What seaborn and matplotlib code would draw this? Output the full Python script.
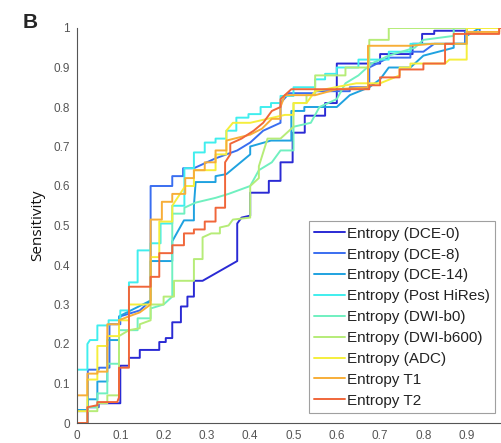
import numpy as np
import pandas as pd
import seaborn as sns
import matplotlib
matplotlib.use("Agg")
import matplotlib.pyplot as plt

# ROC curves, (1 - specificity, sensitivity) vertices
labels = ["Entropy (DCE-0)", "Entropy (DCE-8)", "Entropy (DCE-14)",
          "Entropy (Post HiRes)", "Entropy (DWI-b0)", "Entropy (DWI-b600)",
          "Entropy (ADC)", "Entropy T1", "Entropy T2"]

colors = ["#2a2ad4", "#3a6ef0", "#1fa2e0", "#40eeee", "#70f0c0",
          "#b6ec78", "#f5ee3c", "#f7ae38", "#f0663a"]

dce0_x = [0, 0.025, 0.025, 0.05, 0.05, 0.1, 0.1, 0.12, 0.12, 0.145, 0.145, 0.19, 0.19, 0.205, 0.205,
          0.22, 0.22, 0.24, 0.24, 0.255, 0.255, 0.27, 0.27, 0.29, 0.37, 0.37, 0.38, 0.4, 0.4, 0.443,
          0.443, 0.47, 0.47, 0.498, 0.498, 0.526, 0.526, 0.573, 0.573, 0.6, 0.6, 0.7, 0.7, 0.775,
          0.775, 0.797, 0.797, 0.825, 0.825, 0.9, 0.9, 1]
dce0_y = [0, 0, 0.04, 0.04, 0.05, 0.05, 0.145, 0.145, 0.165, 0.165, 0.185, 0.185, 0.205, 0.205, 0.215,
          0.215, 0.255, 0.255, 0.295, 0.295, 0.32, 0.32, 0.36, 0.36, 0.41, 0.505, 0.52, 0.525, 0.583, 0.583,
          0.613, 0.613, 0.66, 0.66, 0.735, 0.735, 0.778, 0.778, 0.81, 0.81, 0.91, 0.91, 0.934, 0.934,
          0.96, 0.96, 0.985, 0.985, 0.993, 0.993, 1, 1]

dce8_x = [0, 0, 0.025, 0.025, 0.05, 0.05, 0.075, 0.075, 0.1, 0.1, 0.145, 0.17, 0.17, 0.22, 0.22, 0.245,
          0.245, 0.27, 0.32, 0.37, 0.4, 0.43, 0.47, 0.47, 0.49, 0.55, 0.55, 0.63, 0.63, 0.675, 0.675,
          0.72, 0.77, 0.77, 0.8, 0.825, 0.896, 0.896, 0.93, 0.93, 1]
dce8_y = [0, 0.03, 0.03, 0.135, 0.135, 0.14, 0.14, 0.25, 0.25, 0.27, 0.285, 0.31, 0.6, 0.6, 0.625, 0.625,
          0.645, 0.645, 0.67, 0.69, 0.71, 0.74, 0.76, 0.81, 0.835, 0.835, 0.84, 0.84, 0.85, 0.85, 0.9,
          0.925, 0.925, 0.94, 0.94, 0.96, 0.96, 0.99, 0.99, 1, 1]

dce14_x = [0, 0, 0.025, 0.025, 0.047, 0.047, 0.07, 0.07, 0.097, 0.097, 0.17, 0.17, 0.22, 0.22, 0.247,
           0.27, 0.27, 0.274, 0.32, 0.32, 0.345, 0.4, 0.4, 0.448, 0.495, 0.495, 0.525, 0.525, 0.6, 0.63,
           0.675, 0.7, 0.72, 0.77, 0.8, 0.87, 0.87, 0.9, 0.9, 0.93, 1]
dce14_y = [0, 0.033, 0.033, 0.06, 0.06, 0.105, 0.105, 0.21, 0.21, 0.27, 0.31, 0.41, 0.41, 0.46, 0.513,
           0.513, 0.55, 0.61, 0.61, 0.625, 0.63, 0.68, 0.7, 0.715, 0.715, 0.79, 0.79, 0.8, 0.8, 0.83,
           0.85, 0.87, 0.9, 0.9, 0.93, 0.95, 0.96, 0.96, 0.98, 1, 1]

hires_x = [0, 0, 0.024, 0.024, 0.03, 0.047, 0.047, 0.073, 0.073, 0.1, 0.1, 0.12, 0.12, 0.14, 0.14, 0.17,
           0.17, 0.193, 0.193, 0.22, 0.22, 0.248, 0.248, 0.27, 0.27, 0.295, 0.295, 0.32, 0.32, 0.345,
           0.345, 0.368, 0.368, 0.396, 0.396, 0.424, 0.424, 0.448, 0.448, 0.47, 0.47, 0.5, 0.5, 0.55,
           0.55, 0.573, 0.573, 0.6, 0.6, 0.65, 0.65, 0.72, 0.72, 0.77, 0.77, 0.9, 0.9, 1]
hires_y = [0, 0.135, 0.135, 0.2, 0.21, 0.21, 0.247, 0.247, 0.26, 0.26, 0.285, 0.285, 0.356, 0.356, 0.437,
           0.437, 0.455, 0.455, 0.505, 0.505, 0.55, 0.55, 0.645, 0.645, 0.685, 0.685, 0.71, 0.71, 0.72,
           0.72, 0.74, 0.74, 0.773, 0.773, 0.782, 0.782, 0.8, 0.8, 0.81, 0.81, 0.828, 0.828, 0.85, 0.85,
           0.87, 0.87, 0.884, 0.884, 0.9, 0.9, 0.92, 0.92, 0.94, 0.94, 0.96, 0.96, 1, 1]

b0_x = [0, 0.024, 0.024, 0.047, 0.047, 0.07, 0.07, 0.097, 0.097, 0.14, 0.14, 0.17, 0.17, 0.2, 0.22,
        0.22, 0.248, 0.248, 0.274, 0.32, 0.35, 0.4, 0.42, 0.45, 0.47, 0.5, 0.5, 0.54, 0.56, 0.6, 0.62,
        0.65, 0.68, 0.72, 0.78, 0.8, 0.87, 0.87, 1]
b0_y = [0, 0, 0.04, 0.04, 0.075, 0.075, 0.15, 0.15, 0.235, 0.235, 0.265, 0.265, 0.29, 0.3, 0.32,
        0.53, 0.53, 0.545, 0.558, 0.57, 0.58, 0.6, 0.64, 0.66, 0.69, 0.69, 0.75, 0.76, 0.8, 0.82, 0.86,
        0.88, 0.91, 0.93, 0.95, 0.97, 0.98, 1, 1]

b600_x = [0, 0.024, 0.024, 0.047, 0.047, 0.07, 0.07, 0.097, 0.097, 0.12, 0.145, 0.145, 0.17, 0.17, 0.2,
          0.2, 0.224, 0.224, 0.27, 0.27, 0.29, 0.29, 0.31, 0.33, 0.33, 0.35, 0.36, 0.4, 0.4, 0.42, 0.42,
          0.44, 0.47, 0.5, 0.5, 0.53, 0.53, 0.55, 0.55, 0.62, 0.62, 0.675, 0.675, 0.72, 0.72, 1]
b600_y = [0, 0, 0.03, 0.03, 0.05, 0.05, 0.07, 0.07, 0.22, 0.235, 0.24, 0.25, 0.26, 0.3, 0.3,
          0.32, 0.32, 0.36, 0.36, 0.415, 0.415, 0.47, 0.48, 0.48, 0.495, 0.5, 0.515, 0.52, 0.6, 0.62, 0.65,
          0.72, 0.72, 0.75, 0.81, 0.81, 0.83, 0.83, 0.88, 0.88, 0.9, 0.9, 0.97, 0.97, 1, 1]

adc_x = [0, 0, 0.024, 0.024, 0.047, 0.047, 0.07, 0.07, 0.097, 0.097, 0.12, 0.12, 0.17, 0.17, 0.19, 0.19,
         0.22, 0.22, 0.25, 0.27, 0.27, 0.32, 0.32, 0.345, 0.345, 0.36, 0.4, 0.44, 0.48, 0.5, 0.5, 0.53,
         0.55, 0.645, 0.7, 0.745, 0.745, 0.77, 0.77, 0.85, 0.86, 0.9, 0.9, 1]
adc_y = [0, 0.03, 0.03, 0.11, 0.11, 0.195, 0.195, 0.22, 0.22, 0.26, 0.26, 0.3, 0.3, 0.42, 0.42, 0.51,
         0.51, 0.55, 0.6, 0.6, 0.64, 0.64, 0.68, 0.68, 0.74, 0.76, 0.76, 0.77, 0.78, 0.78, 0.81, 0.81,
         0.84, 0.86, 0.86, 0.88, 0.9, 0.9, 0.91, 0.91, 0.92, 0.92, 1, 1]

t1_x = [0, 0, 0.024, 0.024, 0.047, 0.047, 0.07, 0.07, 0.097, 0.097, 0.12, 0.145, 0.17, 0.17, 0.196,
        0.196, 0.22, 0.22, 0.25, 0.25, 0.27, 0.27, 0.295, 0.295, 0.32, 0.32, 0.345, 0.345, 0.4, 0.427,
        0.45, 0.47, 0.47, 0.48, 0.55, 0.6, 0.672, 0.672, 0.77, 0.82, 0.9, 0.9, 0.975, 0.975, 1]
t1_y = [0, 0.07, 0.07, 0.125, 0.125, 0.13, 0.13, 0.25, 0.25, 0.26, 0.27, 0.28, 0.3, 0.515, 0.515,
        0.56, 0.56, 0.58, 0.58, 0.62, 0.62, 0.64, 0.64, 0.66, 0.66, 0.69, 0.69, 0.715, 0.73, 0.745,
        0.77, 0.77, 0.8, 0.83, 0.83, 0.845, 0.85, 0.955, 0.955, 0.96, 0.96, 0.99, 0.99, 1, 1]

t2_x = [0, 0.024, 0.024, 0.047, 0.047, 0.093, 0.097, 0.097, 0.12, 0.12, 0.17, 0.17, 0.19, 0.19, 0.22,
        0.22, 0.247, 0.247, 0.27, 0.27, 0.295, 0.295, 0.32, 0.32, 0.342, 0.342, 0.354, 0.354, 0.38,
        0.408, 0.43, 0.45, 0.47, 0.47, 0.495, 0.675, 0.675, 0.7, 0.7, 0.745, 0.745, 0.8, 0.8, 0.85,
        0.85, 0.87, 0.87, 0.975, 0.975, 1]
t2_y = [0, 0, 0.04, 0.045, 0.053, 0.053, 0.065, 0.14, 0.14, 0.345, 0.345, 0.37, 0.37, 0.43, 0.43,
        0.45, 0.45, 0.48, 0.48, 0.49, 0.49, 0.51, 0.51, 0.545, 0.545, 0.66, 0.68, 0.707, 0.72, 0.74,
        0.76, 0.79, 0.8, 0.82, 0.845, 0.845, 0.855, 0.855, 0.875, 0.875, 0.895, 0.895, 0.91, 0.91,
        0.96, 0.96, 0.985, 0.985, 1, 1]

xs = [dce0_x, dce8_x, dce14_x, hires_x, b0_x, b600_x, adc_x, t1_x, t2_x]
ys = [dce0_y, dce8_y, dce14_y, hires_y, b0_y, b600_y, adc_y, t1_y, t2_y]

frames = []
for lab, x, y in zip(labels, xs, ys):
    frames.append(pd.DataFrame({"fpr": x, "tpr": y, "curve": lab}))
df = pd.concat(frames, ignore_index=True)

sns.set_style("white")
plt.rcParams["font.family"] = ["Liberation Sans", "DejaVu Sans"]

fig = plt.figure(figsize=(5.01, 4.43), dpi=100)
ax = fig.add_axes([77 / 501, 20 / 443, 433 / 501, 395 / 443])

sns.lineplot(data=df, x="fpr", y="tpr", hue="curve", hue_order=labels,
             palette=colors, sort=False, estimator=None, units="curve",
             linewidth=1.4, ax=ax, legend=False)

ax.set_xlim(0, 1)
ax.set_ylim(0, 1)
# x = 1 falls just past the right edge of the picture, so only 0 .. 0.9 get labels there
ticks = np.round(np.arange(0, 1.01, 0.1), 1)
ticklabels = ["0"] + [f"{t:.1f}" for t in ticks[1:-1]] + ["1"]
ax.set_xticks(ticks[:-1])
ax.set_xticklabels(ticklabels[:-1])
ax.set_yticks(ticks)
ax.set_yticklabels(ticklabels)
ax.tick_params(direction="in", length=3, width=0.8, colors="#555555", labelsize=8.5, pad=5)
for s in ["top", "right"]:
    ax.spines[s].set_visible(False)
for s in ["left", "bottom"]:
    ax.spines[s].set_color("#555555")
    ax.spines[s].set_linewidth(0.8)
ax.set_xlabel("")
ax.set_ylabel("Sensitivity", fontsize=11, family="Open Sans", color="#111111", labelpad=6)

handles = [plt.Line2D([], [], color=c, lw=1.4) for c in colors]
leg = fig.legend(handles, labels, loc="lower left", bbox_to_anchor=(309 / 501, 30 / 443),
                 fontsize=11, frameon=True, fancybox=False, borderaxespad=0,
                 handlelength=2.0, handletextpad=0.15, labelspacing=0.45,
                 borderpad=0.35)
leg.get_frame().set_edgecolor("#888888")
leg.get_frame().set_linewidth(0.8)
for t in leg.get_texts():
    t.set_color("#222222")

fig.text(23 / 501, 1 - 22 / 443, "B", fontsize=15, fontweight="bold", va="center", ha="left")

fig.savefig("out.png", dpi=100)
